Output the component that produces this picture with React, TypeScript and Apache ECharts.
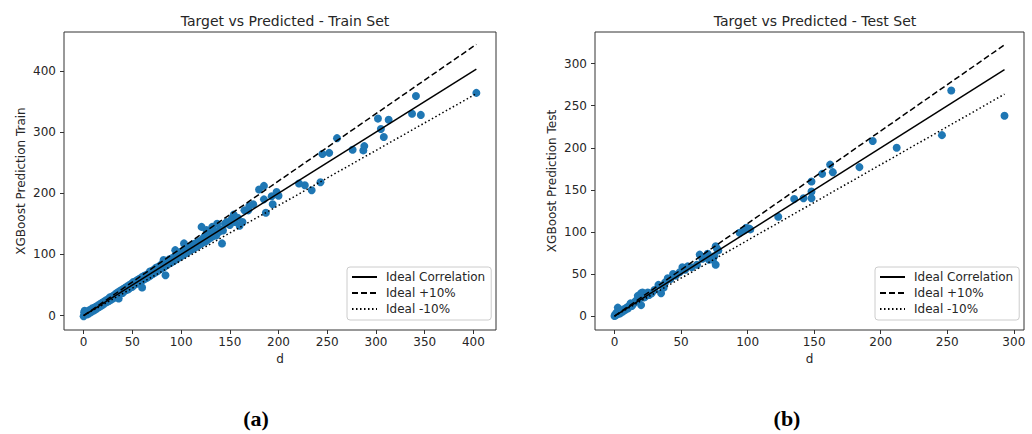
import React, { useEffect, useRef } from "react";
import * as echarts from "echarts";

// ---------- Data ----------
const trainActual = [
  0, 0.5, 1, 2, 3, 4, 5, 6, 7, 8, 9, 10, 11, 12, 13, 14, 15, 16, 17, 18, 19, 20,
  21, 22, 23, 24, 25, 26, 27, 28, 29, 30, 31, 32, 33, 34, 35, 36, 37, 38, 39, 40,
  41, 42, 43, 44, 45, 46, 47, 48, 49, 50, 51, 52, 53, 54, 55, 56, 57, 58, 60, 60,
  61, 62, 63, 64, 65, 66, 67, 68, 69, 70, 71, 72, 73, 74, 75, 76, 77, 78, 79, 80,
  81, 82, 83, 84, 85, 86, 87, 88, 89, 90, 91, 92, 93, 94, 95, 96, 97, 98, 99, 100,
  101, 102, 103, 104, 105, 106, 107, 108, 109, 110, 111, 112, 113, 114, 115, 116,
  117, 118, 119, 120, 121, 122, 123, 124, 125, 126, 127, 128, 129, 130, 131, 132,
  133, 134, 135, 136, 137, 139, 140, 142, 143, 145, 147, 150, 152, 154, 155, 158,
  160, 163, 165, 169, 170, 174, 180, 185, 185, 187, 193, 194, 198, 200, 221, 227,
  234, 243, 245, 252, 260, 276, 287, 288, 302, 305, 308, 313, 337, 341, 346, 403,
];
const trainPredicted = [
  -1, 5, 8, 3, 6, 2, 7, 9, 5, 10, 12, 8, 13, 10, 15, 12, 17, 14, 19, 16, 21, 18,
  23, 21, 25, 22, 27, 24, 30, 26, 31, 28, 33, 30, 36, 31, 38, 28, 40, 36, 42, 37,
  44, 40, 46, 42, 48, 43, 50, 46, 52, 47, 55, 50, 56, 52, 58, 53, 60, 55, 46, 63,
  58, 65, 60, 66, 62, 68, 64, 72, 66, 73, 68, 75, 70, 78, 72, 79, 74, 81, 76, 84,
  78, 91, 80, 66, 88, 83, 85, 92, 86, 93, 88, 95, 90, 107, 92, 99, 94, 101, 96, 104,
  98, 106, 118, 101, 108, 103, 110, 106, 112, 107, 115, 109, 117, 111, 118, 113,
  120, 115, 122, 117, 145, 119, 127, 129, 121, 140, 124, 132, 126, 134, 128, 145,
  130, 138, 132, 131, 150, 137, 141, 118, 139, 150, 153, 148, 158, 165, 153, 160,
  147, 153, 172, 172, 179, 182, 206, 212, 190, 168, 195, 182, 202, 196, 216, 213,
  205, 218, 264, 266, 290, 271, 270, 277, 322, 305, 292, 320, 330, 359, 328, 364,
];
const testActual = [
  0, 0.5, 1, 1.5, 2, 2.5, 3, 3.5, 4, 5, 6, 7, 8, 9, 10, 11, 12, 13, 14, 15, 16,
  17.5, 18, 20, 20, 21, 22, 23, 24, 25, 26, 28, 30, 33, 35, 37, 38, 40, 42, 44,
  46, 49, 51, 53, 55, 58, 62, 64, 66, 70, 71, 74, 76, 76, 75, 78, 77, 94, 97.5,
  99, 101, 102, 123, 135, 142, 148, 148, 148, 156, 162, 164, 184, 194, 212, 246,
  253, 293,
];
const testPredicted = [
  0, 2, 1, 4, 2, 10, 3, 5, 3, 6, 5, 8, 7, 10, 9, 12, 15, 12, 14, 16, 18, 24, 19,
  13, 27, 28, 22, 23, 26, 28, 25, 27, 31, 37, 27, 34, 40, 45, 44, 50, 48, 52, 58,
  55, 59, 58, 61, 73, 68, 74, 67, 67, 61, 83, 71, 78, 80, 99, 102, 105, 104, 103,
  118, 139, 140, 140, 148, 160, 169, 180, 171, 177, 208, 200, 215, 268, 238,
];
const trainXTicks = [0, 50, 100, 150, 200, 250, 300, 350, 400];
const trainYTicks = [0, 100, 200, 300, 400];
const testXTicks = [0, 50, 100, 150, 200, 250, 300];
const testYTicks = [0, 50, 100, 150, 200, 250, 300];
const lineNames = ["Ideal Correlation", "Ideal +10%", "Ideal -10%"];
const lineFactors = [1, 1.1, 0.9];
const titles = ["Target vs Predicted - Train Set", "Target vs Predicted - Test Set"];
const yNames = ["XGBoost Prediction Train", "XGBoost Prediction Test"];
const xName = "d";
const captions = ["(a)", "(b)"];

const FONT = "DejaVu Sans";
const TXT = "#262626";
const BLUE = "#1f77b4";

function pairs(a: number[], b: number[]) {
  return a.map((v, i) => [v, b[i]]);
}

function idealLines(actual: number[], axisIndex: number) {
  const lo = Math.min(...actual);
  const hi = Math.max(...actual);
  const types: any[] = ["solid", [6, 3], [1.5, 2.5]];
  return lineNames.map((name, k) => ({
    name,
    type: "line",
    xAxisIndex: axisIndex,
    yAxisIndex: axisIndex,
    data: [
      [lo, lo * lineFactors[k]],
      [hi, hi * lineFactors[k]],
    ],
    symbol: "none",
    showSymbol: false,
    silent: true,
    z: 3,
    lineStyle: { color: "#000", width: 1.5, type: types[k] },
    itemStyle: { color: "#000" },
  }));
}

function makeXAxis(idx: number, min: number, max: number, ticks: number[]) {
  return {
    gridIndex: idx,
    type: "value",
    min,
    max,
    name: xName,
    nameLocation: "middle",
    nameGap: 21,
    nameTextStyle: { fontFamily: FONT, fontSize: 12, color: TXT },
    axisLine: { show: false, onZero: false },
    splitLine: { show: false },
    axisTick: {
      show: true,
      length: 4,
      customValues: ticks,
      lineStyle: { color: "#333", width: 1 },
    },
    axisLabel: {
      customValues: ticks,
      fontFamily: FONT,
      fontSize: 12,
      color: TXT,
      margin: 6,
    },
  };
}

function makeYAxis(idx: number, min: number, max: number, ticks: number[], name: string) {
  return {
    gridIndex: idx,
    type: "value",
    min,
    max,
    name,
    nameLocation: "middle",
    nameGap: 37,
    nameTextStyle: { fontFamily: FONT, fontSize: 12, color: TXT },
    axisLine: { show: false, onZero: false },
    splitLine: { show: false },
    axisTick: {
      show: true,
      length: 4,
      customValues: ticks,
      lineStyle: { color: "#333", width: 1 },
    },
    axisLabel: {
      customValues: ticks,
      fontFamily: FONT,
      fontSize: 12,
      color: TXT,
      margin: 8,
    },
  };
}

function makeLegend(left: number) {
  return {
    data: lineNames,
    orient: "vertical",
    left,
    top: 267,
    itemWidth: 25,
    itemHeight: 14,
    itemGap: 4,
    padding: [4, 6, 5, 4],
    borderColor: "#cccccc",
    borderWidth: 1,
    borderRadius: 3,
    backgroundColor: "#ffffff",
    selectedMode: false,
    itemStyle: { opacity: 0, color: "rgba(0,0,0,0)", borderWidth: 0 },
    textStyle: { fontFamily: FONT, fontSize: 12, color: TXT, padding: [0, 0, 0, 4] },
  };
}

export default function App() {
  const ref = useRef<HTMLDivElement>(null);
  useEffect(() => {
    if (!ref.current) return;
    const chart = echarts.init(ref.current, undefined, { renderer: "svg" });
    const titleStyle = { fontFamily: FONT, fontSize: 14, fontWeight: "normal", color: TXT };
    const capStyle = (text: string) => ({
      text,
      font: "bold 22px 'Liberation Serif', 'DejaVu Serif', serif",
      fill: "#000",
      align: "center",
      verticalAlign: "middle",
    });
    const option: any = {
      animation: false,
      backgroundColor: "#ffffff",
      title: [
        { text: titles[0], left: 280, top: 9, textAlign: "center", textStyle: titleStyle },
        { text: titles[1], left: 810, top: 9, textAlign: "center", textStyle: titleStyle },
      ],
      grid: [
        { left: 64, top: 32, width: 432, height: 298, show: true, borderColor: "#333", borderWidth: 1, backgroundColor: "transparent" },
        { left: 595, top: 32, width: 429, height: 298, show: true, borderColor: "#333", borderWidth: 1, backgroundColor: "transparent" },
      ],
      xAxis: [
        makeXAxis(0, -20.15, 423.15, trainXTicks),
        makeXAxis(1, -14.65, 307.65, testXTicks),
      ],
      yAxis: [
        makeYAxis(0, -23.5, 463.5, trainYTicks, yNames[0]),
        makeYAxis(1, -16.6, 337.6, testYTicks, yNames[1]),
      ],
      legend: [makeLegend(347), makeLegend(875)],
      series: [
        {
          name: "Train",
          type: "scatter",
          xAxisIndex: 0,
          yAxisIndex: 0,
          data: pairs(trainActual, trainPredicted),
          symbolSize: 8,
          itemStyle: { color: BLUE, opacity: 1 },
          z: 2,
        },
        ...idealLines(trainActual, 0),
        {
          name: "Test",
          type: "scatter",
          xAxisIndex: 1,
          yAxisIndex: 1,
          data: pairs(testActual, testPredicted),
          symbolSize: 8,
          itemStyle: { color: BLUE, opacity: 1 },
          z: 2,
        },
        ...idealLines(testActual, 1),
      ],
      graphic: [
        { type: "text", x: 256, y: 418, style: capStyle(captions[0]) },
        { type: "text", x: 787, y: 418, style: capStyle(captions[1]) },
      ],
    };
    chart.setOption(option);
    return () => chart.dispose();
  }, []);
  return (
    <div
      ref={ref}
      style={{ position: "fixed", left: 0, top: 0, width: 1032, height: 434, background: "#fff" }}
    />
  );
}
